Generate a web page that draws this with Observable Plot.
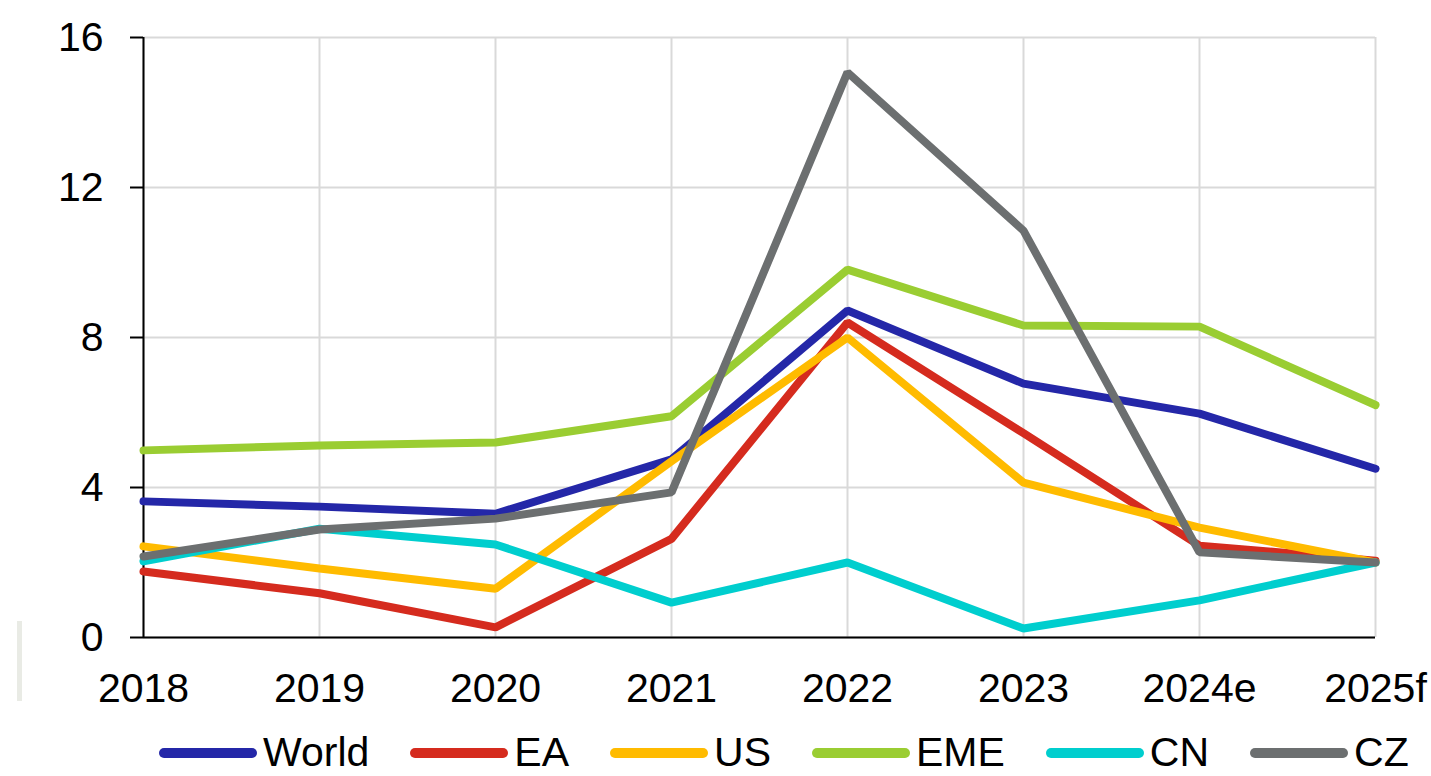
<!DOCTYPE html>
<html>
<head>
<meta charset="utf-8">
<script src="https://cdn.jsdelivr.net/npm/d3@7"></script>
<script src="https://cdn.jsdelivr.net/npm/@observablehq/plot@0.6"></script>
<style>
  html, body { margin: 0; padding: 0; background: #fff; }
  #wrap { position: relative; width: 1431px; height: 776px; overflow: hidden; font-family: "Liberation Sans", Arial, sans-serif; }
  #legend { position: absolute; left: 159px; top: 732px; height: 41px; display: flex; align-items: center; font-size: 41px; line-height: 41px; color: #000; white-space: nowrap; }
  .item { display: flex; align-items: center; margin-right: 41px; }
  .sw { width: 98px; height: 10px; border-radius: 5px; margin-right: 6px; }
  #mark { position: absolute; left: 17px; top: 621px; width: 5px; height: 80px; background: #e9ebe5; }
</style>
</head>
<body>
<div id="wrap">
  <div id="chart"></div>
  <div id="mark"></div>
  <div id="legend"></div>
</div>
<script>
const years = ["2018", "2019", "2020", "2021", "2022", "2023", "2024e", "2025f"];
const yTicks = [0, 4, 8, 12, 16];
const seriesNames = ["World", "EA", "US", "EME", "CN", "CZ"];
const seriesColors = ["#2427a8", "#d52b1e", "#ffbb00", "#9acd32", "#00cece", "#6c6f70"];

const world = [3.63, 3.49, 3.3, 4.75, 8.72, 6.77, 5.97, 4.5];
const ea    = [1.76, 1.18, 0.27, 2.63, 8.4, 5.45, 2.45, 2.05];
const us    = [2.43, 1.84, 1.3, 4.7, 8.0, 4.13, 2.93, 2.0];
const eme   = [4.99, 5.12, 5.2, 5.9, 9.81, 8.32, 8.29, 6.2];
const cn    = [2.03, 2.9, 2.48, 0.93, 2.0, 0.24, 0.99, 2.0];
const cz    = [2.16, 2.88, 3.17, 3.87, 15.07, 10.85, 2.27, 2.0];

const seriesValues = [world, ea, us, eme, cn, cz];
const data = [];
seriesNames.forEach((s, i) => {
  years.forEach((y, j) => data.push({series: s, year: y, value: seriesValues[i][j]}));
});

const chart = Plot.plot({
  width: 1431,
  height: 710,
  marginTop: 37,
  marginBottom: 73,
  marginLeft: 143,
  marginRight: 56,
  style: { fontFamily: "'Liberation Sans', Arial, sans-serif", fontSize: "41px", color: "#000", background: "#fff", overflow: "visible" },
  x: { type: "point", domain: years, padding: 0 },
  y: { domain: [0, 16] },
  color: { domain: seriesNames, range: seriesColors },
  marks: [
    Plot.gridX(years, { stroke: "#d9d9d9", strokeOpacity: 1, strokeWidth: 2 }),
    Plot.gridY(yTicks, { stroke: "#d9d9d9", strokeOpacity: 1, strokeWidth: 2 }),
    Plot.axisY(yTicks, { tickSize: 13, tickPadding: 27, fontSize: 41, strokeWidth: 2, label: null }),
    Plot.axisX(years, { tickSize: 0, tickPadding: 35, fontSize: 41, label: null }),
    Plot.ruleY([0], { stroke: "#000", strokeWidth: 2 }),
    Plot.ruleX([years[0]], { y1: 0, y2: 16, stroke: "#000", strokeWidth: 2 }),
    ...seriesNames.map(s => Plot.lineY(data.filter(d => d.series === s), {
      x: "year", y: "value", stroke: "series", strokeWidth: 8,
      strokeLinecap: "round", strokeLinejoin: "miter"
    }))
  ]
});
document.getElementById("chart").appendChild(chart);

const legend = document.getElementById("legend");
seriesNames.forEach((s, i) => {
  const item = document.createElement("div");
  item.className = "item";
  const sw = document.createElement("div");
  sw.className = "sw";
  sw.style.background = seriesColors[i];
  const t = document.createElement("span");
  t.textContent = s;
  item.appendChild(sw);
  item.appendChild(t);
  legend.appendChild(item);
});
</script>
</body>
</html>
